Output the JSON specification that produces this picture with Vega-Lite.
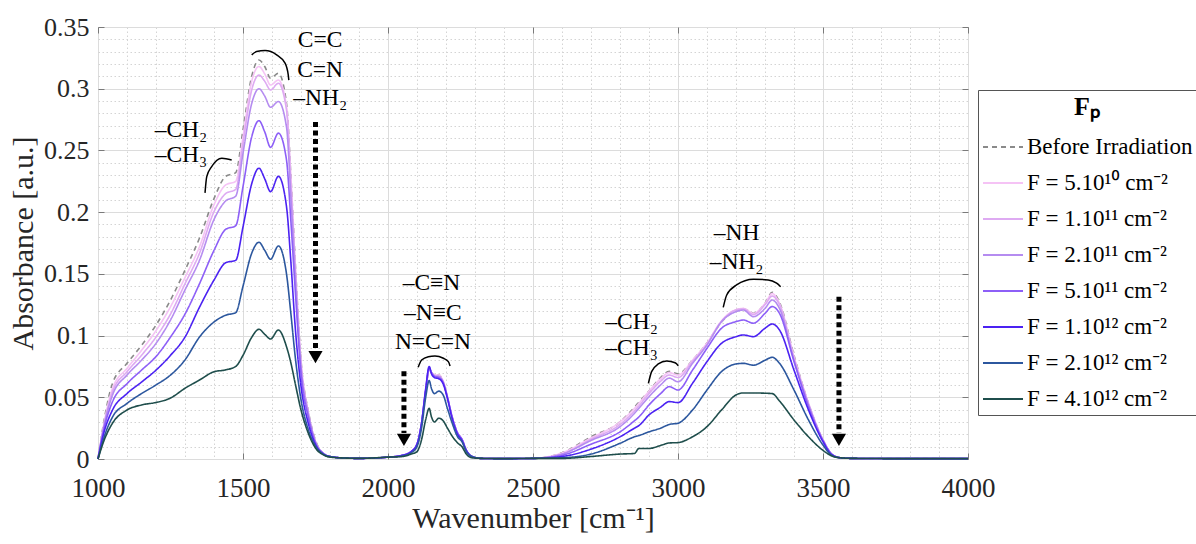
{
  "$schema": "https://vega.github.io/schema/vega-lite/v6.json",
  "width": 870,
  "height": 432,
  "autosize": {"type": "none"},
  "padding": {"left": 98, "top": 27, "right": 228, "bottom": 85},
  "background": "white",
  "config": {
    "font": "Liberation Serif",
    "view": {"stroke": "#7a7a7a", "strokeWidth": 1},
    "axis": {"labelFont": "Liberation Serif", "titleFont": "Liberation Serif", "labelColor": "#262626", "titleColor": "#262626", "titleFontWeight": "normal"}
  },
  "resolve": {"axis": {"x": "independent", "y": "independent"}},
  "layer": [
    {
      "data": {"values": [
        {"w":1000,"b":0,"f1":0,"f2":0,"f3":0,"f4":0,"f5":0,"f6":0,"f7":0},
        {"w":1020,"b":0.030,"f1":0.028,"f2":0.027,"f3":0.026,"f4":0.024,"f5":0.021,"f6":0.017,"f7":0.0145},
        {"w":1050,"b":0.0613,"f1":0.0572,"f2":0.0545,"f3":0.0518,"f4":0.0464,"f5":0.0397,"f6":0.034,"f7":0.029},
        {"w":1100,"b":0.0775,"f1":0.0734,"f2":0.0707,"f3":0.068,"f4":0.061,"f5":0.053,"f6":0.045,"f7":0.0397},
        {"w":1150,"b":0.092,"f1":0.088,"f2":0.084,"f3":0.080,"f4":0.072,"f5":0.0623,"f6":0.053,"f7":0.0438},
        {"w":1200,"b":0.1085,"f1":0.104,"f2":0.0988,"f3":0.0937,"f4":0.083,"f5":0.072,"f6":0.060,"f7":0.0458},
        {"w":1250,"b":0.1288,"f1":0.1233,"f2":0.1174,"f3":0.1126,"f4":0.0988,"f5":0.084,"f6":0.068,"f7":0.0494},
        {"w":1300,"b":0.153,"f1":0.147,"f2":0.142,"f3":0.137,"f4":0.1174,"f5":0.0988,"f6":0.0803,"f7":0.0573},
        {"w":1350,"b":0.179,"f1":0.172,"f2":0.1667,"f3":0.161,"f4":0.142,"f5":0.123,"f6":0.0988,"f7":0.064},
        {"w":1400,"b":0.211,"f1":0.206,"f2":0.2004,"f3":0.194,"f4":0.169,"f5":0.145,"f6":0.111,"f7":0.0707},
        {"w":1440,"b":0.229,"f1":0.222,"f2":0.215,"f3":0.209,"f4":0.186,"f5":0.159,"f6":0.1165,"f7":0.0722},
        {"w":1475,"b":0.232,"f1":0.225,"f2":0.2185,"f3":0.213,"f4":0.189,"f5":0.161,"f6":0.1186,"f7":0.075},
        {"w":1500,"b":0.2666,"f1":0.261,"f2":0.2558,"f3":0.2477,"f4":0.2207,"f5":0.188,"f6":0.140,"f7":0.084},
        {"w":1530,"b":0.310,"f1":0.306,"f2":0.299,"f3":0.288,"f4":0.261,"f5":0.223,"f6":0.1667,"f7":0.0986},
        {"w":1555,"b":0.3233,"f1":0.318,"f2":0.311,"f3":0.300,"f4":0.2741,"f5":0.2356,"f6":0.1756,"f7":0.1051},
        {"w":1575,"b":0.318,"f1":0.312,"f2":0.306,"f3":0.294,"f4":0.265,"f5":0.227,"f6":0.169,"f7":0.101},
        {"w":1595,"b":0.3085,"f1":0.303,"f2":0.299,"f3":0.285,"f4":0.2525,"f5":0.2166,"f6":0.1618,"f7":0.0972},
        {"w":1622,"b":0.3125,"f1":0.307,"f2":0.3044,"f3":0.2896,"f4":0.264,"f5":0.229,"f6":0.1726,"f7":0.1045},
        {"w":1650,"b":0.288,"f1":0.2855,"f2":0.2828,"f3":0.269,"f4":0.2423,"f5":0.2045,"f6":0.150,"f7":0.091},
        {"w":1665,"b":0.230,"f1":0.228,"f2":0.225,"f3":0.213,"f4":0.193,"f5":0.160,"f6":0.118,"f7":0.078},
        {"w":1680,"b":0.160,"f1":0.158,"f2":0.156,"f3":0.150,"f4":0.137,"f5":0.107,"f6":0.083,"f7":0.0613},
        {"w":1700,"b":0.080,"f1":0.079,"f2":0.078,"f3":0.075,"f4":0.0695,"f5":0.059,"f6":0.048,"f7":0.0397},
        {"w":1725,"b":0.039,"f1":0.038,"f2":0.038,"f3":0.037,"f4":0.034,"f5":0.029,"f6":0.024,"f7":0.021},
        {"w":1750,"b":0.015,"f1":0.014,"f2":0.014,"f3":0.014,"f4":0.013,"f5":0.0117,"f6":0.0105,"f7":0.0089},
        {"w":1780,"b":0.004,"f1":0.004,"f2":0.004,"f3":0.004,"f4":0.004,"f5":0.0035,"f6":0.0035,"f7":0.003},
        {"w":1800,"b":0.002,"f1":0.002,"f2":0.002,"f3":0.002,"f4":0.002,"f5":0.002,"f6":0.002,"f7":0.0015},
        {"w":1850,"b":0.0008,"f1":0.0008,"f2":0.0008,"f3":0.0008,"f4":0.0008,"f5":0.0008,"f6":0.0008,"f7":0.0008},
        {"w":1900,"b":0.0005,"f1":0.0005,"f2":0.0005,"f3":0.0005,"f4":0.0005,"f5":0.0005,"f6":0.0005,"f7":0.0005},
        {"w":2000,"b":0.0015,"f1":0.0015,"f2":0.0015,"f3":0.0015,"f4":0.0015,"f5":0.0015,"f6":0.0015,"f7":0.0015},
        {"w":2050,"b":0.003,"f1":0.003,"f2":0.003,"f3":0.003,"f4":0.003,"f5":0.003,"f6":0.0025,"f7":0.002},
        {"w":2080,"b":0.006,"f1":0.006,"f2":0.006,"f3":0.006,"f4":0.006,"f5":0.006,"f6":0.005,"f7":0.004},
        {"w":2100,"b":0.012,"f1":0.012,"f2":0.012,"f3":0.012,"f4":0.012,"f5":0.012,"f6":0.010,"f7":0.006},
        {"w":2115,"b":0.028,"f1":0.028,"f2":0.028,"f3":0.028,"f4":0.028,"f5":0.028,"f6":0.024,"f7":0.015},
        {"w":2130,"b":0.055,"f1":0.055,"f2":0.055,"f3":0.055,"f4":0.056,"f5":0.057,"f6":0.050,"f7":0.032},
        {"w":2142,"b":0.072,"f1":0.072,"f2":0.073,"f3":0.073,"f4":0.074,"f5":0.075,"f6":0.0635,"f7":0.041},
        {"w":2150,"b":0.070,"f1":0.070,"f2":0.070,"f3":0.070,"f4":0.070,"f5":0.069,"f6":0.057,"f7":0.034},
        {"w":2160,"b":0.068,"f1":0.068,"f2":0.068,"f3":0.067,"f4":0.067,"f5":0.066,"f6":0.053,"f7":0.030},
        {"w":2175,"b":0.068,"f1":0.068,"f2":0.067,"f3":0.067,"f4":0.066,"f5":0.065,"f6":0.055,"f7":0.033},
        {"w":2190,"b":0.063,"f1":0.063,"f2":0.063,"f3":0.062,"f4":0.062,"f5":0.061,"f6":0.052,"f7":0.031},
        {"w":2205,"b":0.050,"f1":0.050,"f2":0.050,"f3":0.050,"f4":0.050,"f5":0.049,"f6":0.041,"f7":0.025},
        {"w":2220,"b":0.035,"f1":0.035,"f2":0.035,"f3":0.035,"f4":0.035,"f5":0.034,"f6":0.030,"f7":0.019},
        {"w":2240,"b":0.021,"f1":0.021,"f2":0.021,"f3":0.021,"f4":0.021,"f5":0.020,"f6":0.018,"f7":0.013},
        {"w":2255,"b":0.016,"f1":0.016,"f2":0.016,"f3":0.016,"f4":0.016,"f5":0.015,"f6":0.014,"f7":0.010},
        {"w":2270,"b":0.007,"f1":0.007,"f2":0.007,"f3":0.007,"f4":0.007,"f5":0.007,"f6":0.006,"f7":0.004},
        {"w":2290,"b":0.002,"f1":0.002,"f2":0.002,"f3":0.002,"f4":0.002,"f5":0.002,"f6":0.002,"f7":0.001},
        {"w":2320,"b":0.0005,"f1":0.0005,"f2":0.0005,"f3":0.0005,"f4":0.0005,"f5":0.0005,"f6":0.0005,"f7":0.0005},
        {"w":2400,"b":0.0003,"f1":0.0003,"f2":0.0003,"f3":0.0003,"f4":0.0003,"f5":0.0003,"f6":0.0003,"f7":0.0003},
        {"w":2500,"b":0.0005,"f1":0.0005,"f2":0.0005,"f3":0.0005,"f4":0.0005,"f5":0.0005,"f6":0.0005,"f7":0.0005},
        {"w":2600,"b":0.005,"f1":0.005,"f2":0.004,"f3":0.004,"f4":0.003,"f5":0.002,"f6":0.001,"f7":0.0005},
        {"w":2700,"b":0.018,"f1":0.017,"f2":0.016,"f3":0.015,"f4":0.012,"f5":0.008,"f6":0.004,"f7":0.002},
        {"w":2800,"b":0.030,"f1":0.030,"f2":0.028,"f3":0.0262,"f4":0.022,"f5":0.018,"f6":0.0127,"f7":0.004},
        {"w":2850,"b":0.042,"f1":0.041,"f2":0.039,"f3":0.037,"f4":0.031,"f5":0.025,"f6":0.018,"f7":0.0045},
        {"w":2865,"b":0.046,"f1":0.045,"f2":0.043,"f3":0.041,"f4":0.034,"f5":0.027,"f6":0.019,"f7":0.0085},
        {"w":2900,"b":0.055,"f1":0.055,"f2":0.053,"f3":0.0505,"f4":0.0438,"f5":0.0357,"f6":0.022,"f7":0.0085},
        {"w":2940,"b":0.066,"f1":0.065,"f2":0.063,"f3":0.060,"f4":0.053,"f5":0.042,"f6":0.025,"f7":0.011},
        {"w":2970,"b":0.071,"f1":0.070,"f2":0.068,"f3":0.0655,"f4":0.0586,"f5":0.0465,"f6":0.028,"f7":0.013},
        {"w":3000,"b":0.069,"f1":0.068,"f2":0.066,"f3":0.0626,"f4":0.0559,"f5":0.0457,"f6":0.029,"f7":0.0133},
        {"w":3050,"b":0.080,"f1":0.080,"f2":0.079,"f3":0.0775,"f4":0.072,"f5":0.0613,"f6":0.0397,"f7":0.018},
        {"w":3100,"b":0.094,"f1":0.094,"f2":0.093,"f3":0.0924,"f4":0.0897,"f5":0.0789,"f6":0.0559,"f7":0.0262},
        {"w":3150,"b":0.111,"f1":0.112,"f2":0.1113,"f3":0.1113,"f4":0.1059,"f5":0.0937,"f6":0.0708,"f7":0.0397},
        {"w":3200,"b":0.1205,"f1":0.121,"f2":0.1207,"f3":0.1194,"f4":0.1113,"f5":0.0991,"f6":0.077,"f7":0.0519},
        {"w":3225,"b":0.122,"f1":0.122,"f2":0.1215,"f3":0.1207,"f4":0.1126,"f5":0.1005,"f6":0.0775,"f7":0.0535},
        {"w":3260,"b":0.118,"f1":0.118,"f2":0.117,"f3":0.1153,"f4":0.110,"f5":0.0991,"f6":0.076,"f7":0.0535},
        {"w":3300,"b":0.126,"f1":0.126,"f2":0.125,"f3":0.122,"f4":0.118,"f5":0.1059,"f6":0.080,"f7":0.0533},
        {"w":3325,"b":0.135,"f1":0.134,"f2":0.132,"f3":0.1288,"f4":0.1235,"f5":0.1094,"f6":0.0824,"f7":0.053},
        {"w":3350,"b":0.127,"f1":0.126,"f2":0.125,"f3":0.122,"f4":0.118,"f5":0.1045,"f6":0.0775,"f7":0.047},
        {"w":3400,"b":0.084,"f1":0.083,"f2":0.082,"f3":0.080,"f4":0.079,"f5":0.072,"f6":0.0559,"f7":0.0316},
        {"w":3450,"b":0.045,"f1":0.045,"f2":0.045,"f3":0.044,"f4":0.0424,"f5":0.0397,"f6":0.0316,"f7":0.018},
        {"w":3500,"b":0.0155,"f1":0.0155,"f2":0.0155,"f3":0.015,"f4":0.015,"f5":0.014,"f6":0.0113,"f7":0.007},
        {"w":3530,"b":0.004,"f1":0.004,"f2":0.004,"f3":0.004,"f4":0.004,"f5":0.0035,"f6":0.003,"f7":0.0025},
        {"w":3560,"b":0.001,"f1":0.001,"f2":0.001,"f3":0.001,"f4":0.001,"f5":0.001,"f6":0.001,"f7":0.001},
        {"w":3600,"b":0.0005,"f1":0.0005,"f2":0.0005,"f3":0.0005,"f4":0.0005,"f5":0.0005,"f6":0.0005,"f7":0.0005},
        {"w":3800,"b":0.0003,"f1":0.0003,"f2":0.0003,"f3":0.0003,"f4":0.0003,"f5":0.0003,"f6":0.0003,"f7":0.0003},
        {"w":4000,"b":0.0003,"f1":0.0003,"f2":0.0003,"f3":0.0003,"f4":0.0003,"f5":0.0003,"f6":0.0003,"f7":0.0003}
      ]},
      "transform": [{"fold": ["b","f1","f2","f3","f4","f5","f6","f7"], "as": ["k","A"]}],
      "mark": {"type": "line", "strokeWidth": 1.6, "interpolate": "monotone"},
      "encoding": {
        "x": {"field": "w", "type": "quantitative", "scale": {"domain": [1000, 4000], "nice": false, "zero": false},
          "axis": {"orient": "bottom", "values": [1000,1500,2000,2500,3000,3500,4000], "format": "d", "labelFontSize": 27, "labelPadding": 16, "labelFlush": false, "labelOverlap": false, "labelBound": false, "ticks": false, "domain": false, "grid": true, "gridColor": "#dcdcdc", "gridWidth": 1, "title": "Wavenumber [cm⁻¹]", "titleFontSize": 30, "titlePadding": 2}},
        "y": {"field": "A", "type": "quantitative", "scale": {"domain": [0, 0.35], "nice": false},
          "axis": {"orient": "left", "values": [0,0.05,0.1,0.15,0.2,0.25,0.3,0.35], "format": "~g", "labelFontSize": 26, "labelPadding": 9, "labelFlush": false, "labelOverlap": false, "labelBound": false, "ticks": false, "domain": false, "grid": true, "gridColor": "#dcdcdc", "gridWidth": 1, "title": "Absorbance [a.u.]", "titleFontSize": 30, "titlePadding": 5}},
        "color": {"field": "k", "type": "nominal",
          "scale": {"domain": ["b","f1","f2","f3","f4","f5","f6","f7"], "range": ["#8a8a8a","#f5c3f5","#deaaf2","#b58cf0","#8d5ff7","#4b22f2","#2c579e","#1f4e4c"]},
          "legend": {"title": "Fₚ", "orient": "none", "legendX": 880, "legendY": 63, "direction": "vertical",
            "titleFont": "Liberation Serif", "titleFontSize": 26, "titleFontWeight": "bold", "titleAnchor": "middle", "titleAlign": "center", "titleColor": "#000", "titlePadding": 6,
            "labelFont": "Liberation Serif, Noto Sans", "labelFontSize": 23, "labelColor": "#000", "labelOffset": 3, "labelLimit": 300,
            "symbolType": "stroke", "symbolSize": 1600, "symbolStrokeWidth": 2, "rowPadding": 3, "padding": 4,
            "strokeColor": "#555", "fillColor": "white",
            "labelExpr": "{'b':'Before Irradiation','f1':'F = 5.10¹⁰ cm⁻²','f2':'F = 1.10¹¹ cm⁻²','f3':'F = 2.10¹¹ cm⁻²','f4':'F = 5.10¹¹ cm⁻²','f5':'F = 1.10¹² cm⁻²','f6':'F = 2.10¹² cm⁻²','f7':'F = 4.10¹² cm⁻²'}[datum.label]"}},
        "strokeDash": {"field": "k", "type": "nominal",
          "scale": {"domain": ["b","f1","f2","f3","f4","f5","f6","f7"], "range": [[5,4],[1,0],[1,0],[1,0],[1,0],[1,0],[1,0],[1,0]]},
          "legend": {"title": "Fₚ", "orient": "none", "legendX": 880, "legendY": 63, "direction": "vertical",
            "titleFont": "Liberation Serif", "titleFontSize": 26, "titleFontWeight": "bold", "titleAnchor": "middle", "titleAlign": "center", "titleColor": "#000", "titlePadding": 6,
            "labelFont": "Liberation Serif, Noto Sans", "labelFontSize": 23, "labelColor": "#000", "labelOffset": 3, "labelLimit": 300,
            "symbolType": "stroke", "symbolSize": 1600, "symbolStrokeWidth": 2, "rowPadding": 3, "padding": 4,
            "strokeColor": "#555", "fillColor": "white",
            "labelExpr": "{'b':'Before Irradiation','f1':'F = 5.10¹⁰ cm⁻²','f2':'F = 1.10¹¹ cm⁻²','f3':'F = 2.10¹¹ cm⁻²','f4':'F = 5.10¹¹ cm⁻²','f5':'F = 1.10¹² cm⁻²','f6':'F = 2.10¹² cm⁻²','f7':'F = 4.10¹² cm⁻²'}[datum.label]"}}
      }
    },
    {
      "data": {"values": [
        {"g":1,"w":1530,"A":0.3274},{"g":1,"w":1547,"A":0.3301},{"g":1,"w":1576,"A":0.3309},{"g":1,"w":1616,"A":0.3274},{"g":1,"w":1645,"A":0.3207},{"g":1,"w":1656,"A":0.3112},{"g":1,"w":1658,"A":0.307},
        {"g":2,"w":1369,"A":0.2156},{"g":2,"w":1375,"A":0.2288},{"g":2,"w":1392,"A":0.2369},{"g":2,"w":1427,"A":0.2437},{"g":2,"w":1461,"A":0.2423},
        {"g":3,"w":2104,"A":0.0743},{"g":3,"w":2116,"A":0.0802},{"g":3,"w":2139,"A":0.0829},{"g":3,"w":2162,"A":0.0835},{"g":3,"w":2191,"A":0.0816},{"g":3,"w":2208,"A":0.0789},{"g":3,"w":2214,"A":0.0754},
        {"g":4,"w":3156,"A":0.1229},{"g":4,"w":3168,"A":0.1329},{"g":4,"w":3202,"A":0.141},{"g":4,"w":3260,"A":0.1456},{"g":4,"w":3311,"A":0.1451},{"g":4,"w":3340,"A":0.1424},{"g":4,"w":3354,"A":0.1396},
        {"g":5,"w":2898,"A":0.0613},{"g":5,"w":2909,"A":0.0708},{"g":5,"w":2932,"A":0.077},{"g":5,"w":2961,"A":0.0794},{"g":5,"w":2990,"A":0.078},{"g":5,"w":3001,"A":0.0756}
      ]},
      "mark": {"type": "line", "color": "black", "strokeWidth": 1.5, "interpolate": "monotone"},
      "encoding": {
        "x": {"field": "w", "type": "quantitative", "scale": {"domain": [1000, 4000], "nice": false, "zero": false},
          "axis": {"orient": "top", "values": [1000,1500,2000,2500,3000,3500,4000], "labels": false, "ticks": true, "tickSize": -6, "tickColor": "#7a7a7a", "domain": false, "grid": false, "title": null}},
        "y": {"field": "A", "type": "quantitative", "scale": {"domain": [0, 0.35], "nice": false},
          "axis": {"orient": "right", "values": [0,0.05,0.1,0.15,0.2,0.25,0.3,0.35], "labels": false, "ticks": true, "tickSize": -6, "tickColor": "#7a7a7a", "domain": false, "grid": false, "title": null}},
        "detail": {"field": "g", "type": "nominal"}
      }
    },
    {
      "data": {"values": [
        {"w":1750,"A1":0.273,"A2":0.089},
        {"w":2055,"A1":0.071,"A2":0.021},
        {"w":3555,"A1":0.1315,"A2":0.021}
      ]},
      "mark": {"type": "rule", "color": "black", "strokeWidth": 5, "strokeDash": [5, 3.5], "strokeCap": "butt"},
      "encoding": {
        "x": {"field": "w", "type": "quantitative", "scale": {"domain": [1000, 4000], "nice": false, "zero": false},
          "axis": {"orient": "bottom", "values": [1100,1200,1300,1400,1600,1700,1800,1900,2100,2200,2300,2400,2600,2700,2800,2900,3100,3200,3300,3400,3600,3700,3800,3900], "labels": false, "ticks": false, "domain": false, "grid": true, "gridColor": "#d4d4d4", "gridDash": [1.5, 2.5], "gridWidth": 1, "title": null}},
        "y": {"field": "A1", "type": "quantitative", "scale": {"domain": [0, 0.35], "nice": false},
          "axis": {"orient": "left", "values": [0.01,0.02,0.03,0.04,0.06,0.07,0.08,0.09,0.11,0.12,0.13,0.14,0.16,0.17,0.18,0.19,0.21,0.22,0.23,0.24,0.26,0.27,0.28,0.29,0.31,0.32,0.33,0.34], "labels": false, "ticks": false, "domain": false, "grid": true, "gridColor": "#d4d4d4", "gridDash": [1.5, 2.5], "gridWidth": 1, "title": null}},
        "y2": {"field": "A2"}
      }
    },
    {
      "data": {"values": [
        {"w":1750,"A":0.0825},
        {"w":2055,"A":0.0155},
        {"w":3555,"A":0.0155}
      ]},
      "mark": {"type": "point", "shape": "triangle-down", "filled": true, "color": "black", "size": 200, "opacity": 1},
      "encoding": {
        "x": {"field": "w", "type": "quantitative", "scale": {"domain": [1000, 4000], "nice": false, "zero": false},
          "axis": {"orient": "bottom", "values": [1000,1500,2000,2500,3000,3500,4000], "labels": false, "ticks": true, "tickSize": -6, "tickColor": "#7a7a7a", "domain": false, "grid": false, "title": null}},
        "y": {"field": "A", "type": "quantitative", "scale": {"domain": [0, 0.35], "nice": false},
          "axis": {"orient": "left", "values": [0,0.05,0.1,0.15,0.2,0.25,0.3,0.35], "labels": false, "ticks": true, "tickSize": -6, "tickColor": "#7a7a7a", "domain": false, "grid": false, "title": null}}
      }
    },
    {
      "data": {"values": [
        {"w":1766,"A":0.3395,"t":"C=C"},
        {"w":1766,"A":0.3152,"t":"C=N"},
        {"w":1766,"A":0.2925,"t":"–NH₂"},
        {"w":1286,"A":0.2666,"t":"–CH₂"},
        {"w":1286,"A":0.2464,"t":"–CH₃"},
        {"w":2150,"A":0.1424,"t":"–C≡N"},
        {"w":2155,"A":0.118,"t":"–N≡C"},
        {"w":2155,"A":0.0951,"t":"N=C=N"},
        {"w":3202,"A":0.1829,"t":"–NH"},
        {"w":3202,"A":0.160,"t":"–NH₂"},
        {"w":2840,"A":0.1113,"t":"–CH₂"},
        {"w":2840,"A":0.0897,"t":"–CH₃"}
      ]},
      "mark": {"type": "text", "font": "Liberation Serif", "fontSize": 23.5, "color": "black", "align": "center", "baseline": "middle"},
      "encoding": {
        "x": {"field": "w", "type": "quantitative", "scale": {"domain": [1000, 4000], "nice": false, "zero": false}, "axis": null},
        "y": {"field": "A", "type": "quantitative", "scale": {"domain": [0, 0.35], "nice": false}, "axis": null},
        "text": {"field": "t"}
      }
    }
  ]
}
